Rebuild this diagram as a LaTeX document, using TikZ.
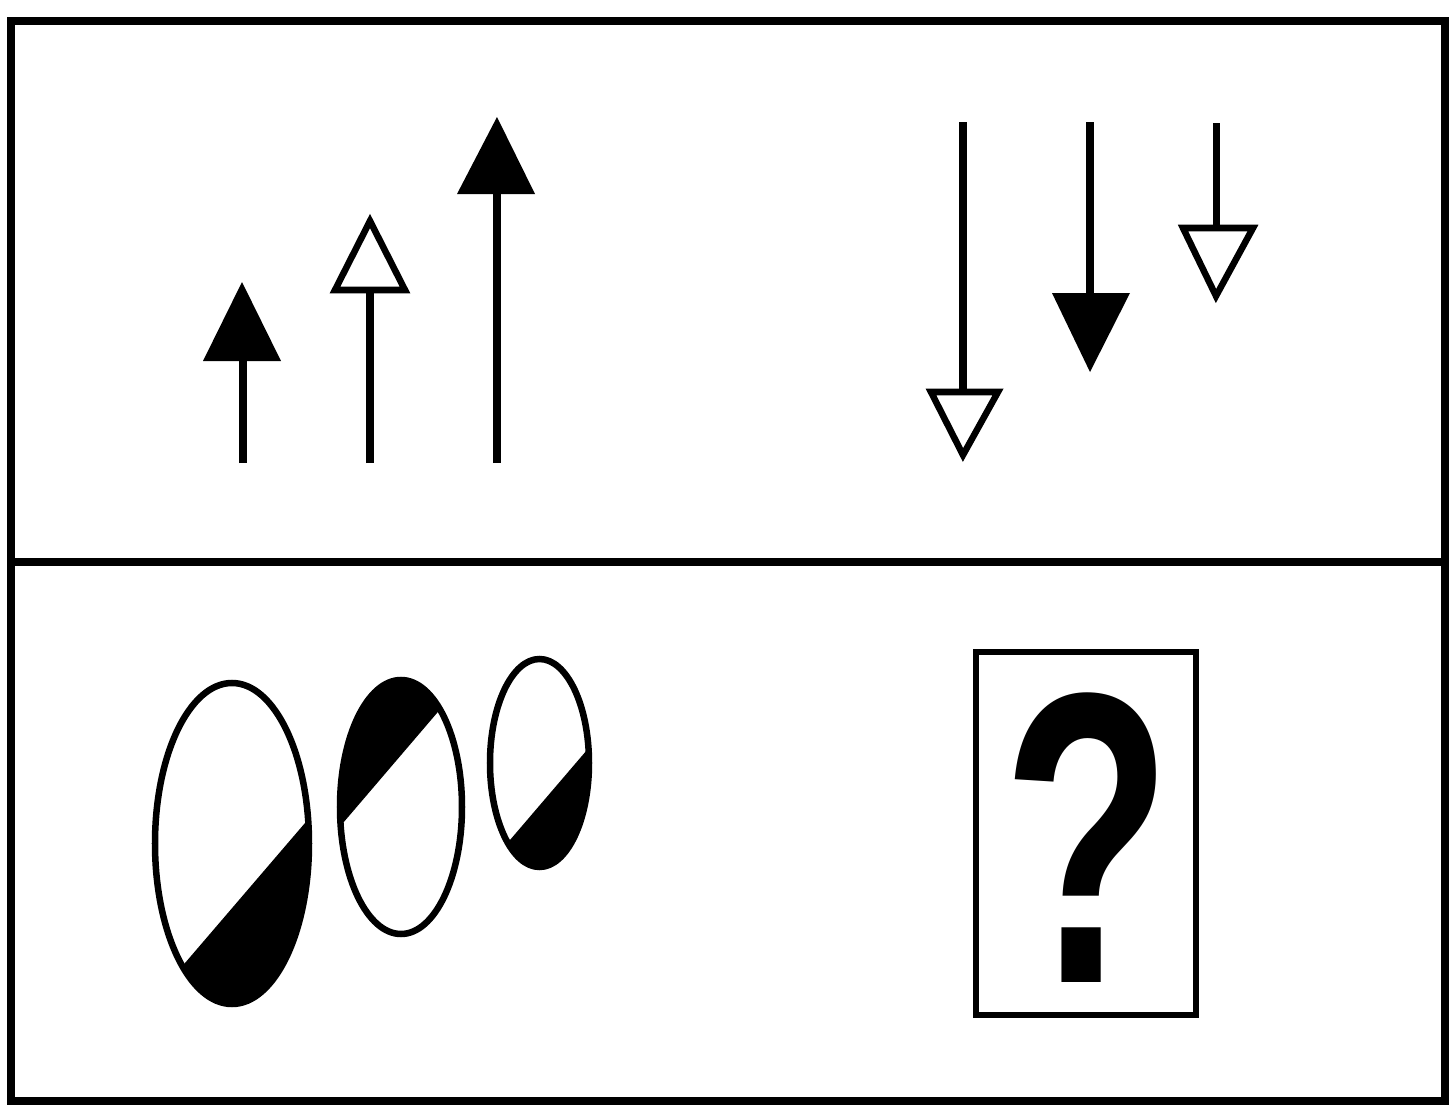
\documentclass[tikz,border=0pt]{standalone}
\usepackage{fontspec}
\newfontfamily\qfont{Liberation Sans}
\tikzset{
  panel/.style={line width=0.8mm},
  shaft/.style={line width=0.7mm},
  solidhead/.style={fill=black},
  openhead/.style={line width=0.65mm, line join=miter, fill=white},
  thin/.style={line width=0.65mm}
}
\begin{document}
\begin{tikzpicture}[x=0.01cm, y=-0.01cm]
\useasboundingbox (0,0) rectangle (1456,1106);
\draw[panel] (11,21) rectangle (1445,1101);
\draw[panel] (11,562) -- (1445,562);
% top panel, rising arrows
\draw[shaft] (243,463) -- (243,358);
\fill[solidhead] (203,361) -- (281,361) -- (242,282) -- cycle;
\draw[shaft] (370,463) -- (370,290);
\draw[openhead] (335,290) -- (405,290) -- (370,221) -- cycle;
\draw[shaft] (497,463) -- (497,191);
\fill[solidhead] (457,194) -- (535,194) -- (497,117) -- cycle;
% top panel, falling arrows
\draw[shaft] (963,122) -- (963,392);
\draw[openhead] (931,392) -- (998,392) -- (963,455) -- cycle;
\draw[shaft] (1090,122) -- (1090,296);
\fill[solidhead] (1052,293) -- (1130,293) -- (1090,372) -- cycle;
\draw[shaft] (1216,123) -- (1216,228);
\draw[openhead] (1183,228) -- (1253,228) -- (1216,296) -- cycle;
% bottom panel, ovals
\begin{scope}
\clip (232,843.5) ellipse (77 and 160.5);
\fill (65,1103) -- (425,683) -- (425,1103) -- cycle;
\end{scope}
\draw[thin] (232,843.5) ellipse (77 and 160.5);
\begin{scope}
\clip (401,807) ellipse (61 and 127);
\fill (155,1043) -- (531,603) -- (155,603) -- cycle;
\end{scope}
\draw[thin] (401,807) ellipse (61 and 127);
\begin{scope}
\clip (539.5,763) ellipse (49.5 and 104);
\fill (356,1020) -- (664,660) -- (664,1020) -- cycle;
\end{scope}
\draw[thin] (539.5,763) ellipse (49.5 and 104);
% bottom panel, answer box
\draw[thin] (976,652) rectangle (1196,1015);
\node[font=\qfont\bfseries\fontsize{118}{118}\selectfont, xscale=0.67, inner sep=0, anchor=base] (qmark) at (1087,982) {?};
\end{tikzpicture}
\end{document}
